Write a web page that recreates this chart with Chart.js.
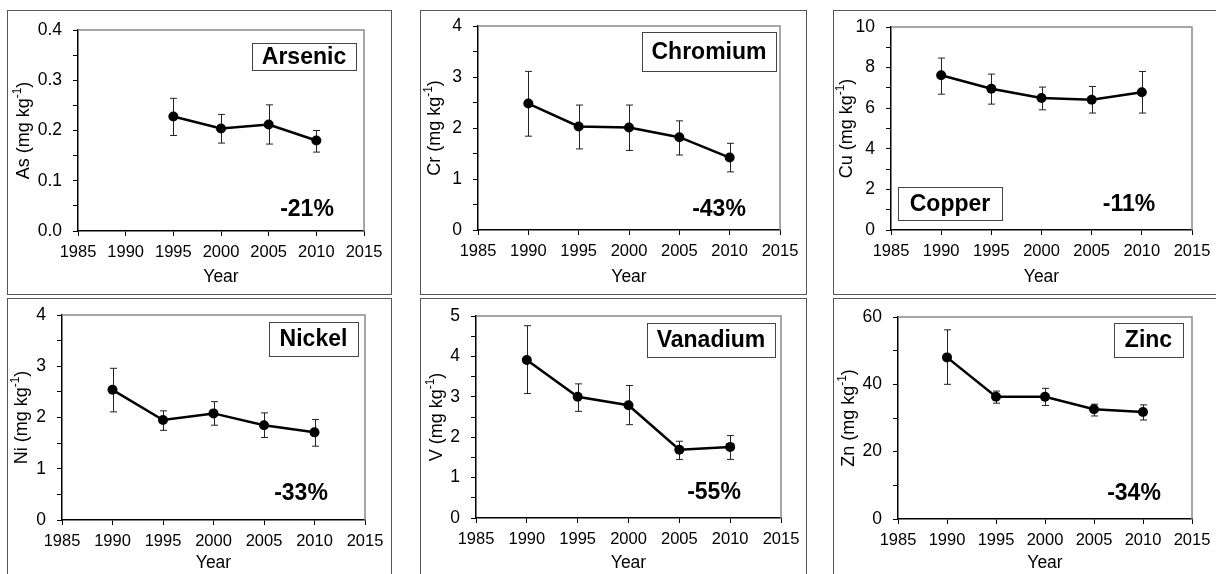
<!DOCTYPE html>
<html>
<head>
<meta charset="utf-8">
<script src="https://cdn.jsdelivr.net/npm/chart.js@4.4.1/dist/chart.umd.min.js"></script>
<style>
  body { margin: 0; width: 1216px; height: 574px; overflow: hidden; background: #fff; position: relative; }
  .panel { position: absolute; }
  .panel .wrap { position: absolute; left: 0; top: 0; width: 100%; height: 100%; }
  .panel .frame { position: absolute; left: 0; top: 0; right: 0; bottom: 0; border: 1px solid #555;
                  box-sizing: border-box; pointer-events: none; }
</style>
</head>
<body>
<script>
const FONT = '"Liberation Sans", Arial, sans-serif';

// sampling years
const years = [1990, 1995, 2000, 2005, 2010];
const asYears = [1995, 2000, 2005, 2010];
const xTicks = ['1985', '1990', '1995', '2000', '2005', '2010', '2015'];

// means and error bar ends (mg kg-1)
const asMean = [0.228, 0.204, 0.212, 0.180];
const asLo   = [0.190, 0.175, 0.173, 0.157];
const asHi   = [0.264, 0.232, 0.251, 0.200];

const crMean = [2.48, 2.03, 2.01, 1.82, 1.42];
const crLo   = [1.84, 1.59, 1.56, 1.47, 1.14];
const crHi   = [3.11, 2.45, 2.45, 2.14, 1.70];

const cuMean = [7.62, 6.96, 6.50, 6.42, 6.79];
const cuLo   = [6.69, 6.20, 5.92, 5.76, 5.76];
const cuHi   = [8.47, 7.68, 7.04, 7.07, 7.81];

const niMean = [2.54, 1.95, 2.08, 1.85, 1.71];
const niLo   = [2.11, 1.75, 1.85, 1.61, 1.44];
const niHi   = [2.96, 2.13, 2.31, 2.09, 1.96];

const vMean = [3.91, 3.00, 2.79, 1.69, 1.76];
const vLo   = [3.08, 2.64, 2.31, 1.45, 1.45];
const vHi   = [4.76, 3.32, 3.28, 1.90, 2.04];

const znMean = [48.0, 36.3, 36.3, 32.6, 31.8];
const znLo   = [40.0, 34.4, 33.7, 30.6, 29.4];
const znHi   = [56.2, 38.0, 38.8, 34.1, 33.9];

// y tick labels
const asTicks = ['0.0', '0.1', '0.2', '0.3', '0.4'];
const crTicks = ['0', '1', '2', '3', '4'];
const cuTicks = ['0', '2', '4', '6', '8', '10'];
const niTicks = ['0', '1', '2', '3', '4'];
const vTicks  = ['0', '1', '2', '3', '4', '5'];
const znTicks = ['0', '20', '40', '60'];

const panels = [
  { left: 7, top: 10, w: 385, h: 285, area: [71, 20, 357, 221], yearTitle: 267,
    yrs: asYears, mean: asMean, lo: asLo, hi: asHi, ticks: asTicks, minor: 0.05,
    sym: 'As', name: 'Arsenic', box: [245, 33, 349, 60], pct: '-21%', pctAt: [300, 200], titleX: 15 },
  { left: 420, top: 10, w: 387, h: 285, area: [58, 16, 360, 220], yearTitle: 267,
    yrs: years, mean: crMean, lo: crLo, hi: crHi, ticks: crTicks, minor: 0.5,
    sym: 'Cr', name: 'Chromium', box: [222, 22, 356, 61], pct: '-43%', pctAt: [299, 200], titleX: 13 },
  { left: 833, top: 10, w: 400, h: 285, area: [58, 17, 359, 220], yearTitle: 267,
    yrs: years, mean: cuMean, lo: cuLo, hi: cuHi, ticks: cuTicks, minor: 1,
    sym: 'Cu', name: 'Copper', box: [65, 177, 169, 210], pct: '-11%', pctAt: [296, 195], titleX: 12 },
  { left: 7, top: 298, w: 385, h: 290, area: [55, 17, 358, 222], yearTitle: 265,
    yrs: years, mean: niMean, lo: niLo, hi: niHi, ticks: niTicks, minor: 0.5,
    sym: 'Ni', name: 'Nickel', box: [262, 24, 351, 58], pct: '-33%', pctAt: [294, 196], titleX: 13 },
  { left: 420, top: 298, w: 387, h: 290, area: [56, 18, 361, 220], yearTitle: 265,
    yrs: years, mean: vMean, lo: vLo, hi: vHi, ticks: vTicks, minor: 0.5,
    sym: 'V', name: 'Vanadium', box: [227, 25, 355, 59], pct: '-55%', pctAt: [294, 195], titleX: 15 },
  { left: 833, top: 298, w: 400, h: 290, area: [65, 19, 359, 221], yearTitle: 265,
    yrs: years, mean: znMean, lo: znLo, hi: znHi, ticks: znTicks, minor: 10,
    sym: 'Zn', name: 'Zinc', box: [281, 25, 350, 59], pct: '-34%', pctAt: [301, 196], titleX: 14 },
];

// error bars, plot frame, y title, name box and percentage
function panelPlugin(p) {
  return {
    id: 'panelDeco',
    beforeDatasetsDraw(chart) {
      const { ctx, chartArea: a, scales: { x, y } } = chart;
      ctx.save();
      ctx.strokeStyle = '#8a8a8a';
      ctx.lineWidth = 1.5;
      ctx.beginPath();
      ctx.moveTo(a.left, a.top); ctx.lineTo(a.right, a.top); ctx.lineTo(a.right, a.bottom);
      ctx.stroke();

      ctx.strokeStyle = '#222';
      ctx.lineWidth = 1;
      p.yrs.forEach((yr, i) => {
        const px = Math.round(x.getPixelForValue(yr)) + 0.5;
        const t = y.getPixelForValue(p.hi[i]);
        const b = y.getPixelForValue(p.lo[i]);
        ctx.beginPath();
        ctx.moveTo(px, t); ctx.lineTo(px, b);
        ctx.moveTo(px - 3.5, t); ctx.lineTo(px + 3.5, t);
        ctx.moveTo(px - 3.5, b); ctx.lineTo(px + 3.5, b);
        ctx.stroke();
      });
      ctx.restore();
    },
    afterDraw(chart) {
      const { ctx, chartArea: a } = chart;
      ctx.save();
      ctx.fillStyle = '#000';

      // y axis title with superscript
      const main = p.sym + ' (mg kg', sup = '-1', close = ')';
      ctx.font = '18px ' + FONT;
      const w1 = ctx.measureText(main).width, w3 = ctx.measureText(close).width;
      ctx.font = '12px ' + FONT;
      const w2 = ctx.measureText(sup).width;
      const total = w1 + w2 + w3;
      ctx.translate(p.titleX, (a.top + a.bottom) / 2);
      ctx.rotate(-Math.PI / 2);
      ctx.textBaseline = 'alphabetic';
      ctx.textAlign = 'left';
      let sx = -total / 2;
      ctx.font = '18px ' + FONT;
      ctx.fillText(main, sx, 6.5);
      sx += w1;
      ctx.font = '12px ' + FONT;
      ctx.fillText(sup, sx, -1);
      sx += w2;
      ctx.font = '18px ' + FONT;
      ctx.fillText(close, sx, 6.5);
      ctx.setTransform(1, 0, 0, 1, 0, 0);

      // element name box
      const [bx0, by0, bx1, by1] = p.box;
      ctx.fillStyle = '#fff';
      ctx.fillRect(bx0, by0, bx1 - bx0, by1 - by0);
      ctx.strokeStyle = '#444';
      ctx.lineWidth = 1;
      ctx.strokeRect(bx0 + 0.5, by0 + 0.5, bx1 - bx0, by1 - by0);
      ctx.fillStyle = '#000';
      ctx.font = 'bold 23px ' + FONT;
      ctx.textAlign = 'center';
      ctx.textBaseline = 'middle';
      ctx.fillText(p.name, (bx0 + bx1) / 2, (by0 + by1) / 2 + 1);

      // percentage change
      ctx.font = 'bold 23px ' + FONT;
      ctx.fillText(p.pct, p.pctAt[0], p.pctAt[1]);
      ctx.restore();
    }
  };
}

panels.forEach((p, k) => {
  const div = document.createElement('div');
  div.className = 'panel';
  div.style.cssText = `left:${p.left}px;top:${p.top}px;width:${p.w}px;height:${p.h}px`;
  div.innerHTML = `<div class="wrap"><canvas id="c${k}"></canvas></div><div class="frame"></div>`;
  document.body.appendChild(div);

  const [L, T, R, B] = p.area;
  const padB = p.h - p.yearTitle - 4 - 10.2;
  const yMax = parseFloat(p.ticks[p.ticks.length - 1]);

  new Chart(document.getElementById('c' + k), {
    type: 'line',
    data: {
      datasets: [{
        data: p.yrs.map((yr, i) => ({ x: yr, y: p.mean[i] })),
        borderColor: '#000',
        borderWidth: 2.5,
        pointRadius: 5,
        pointBackgroundColor: '#000',
        pointBorderWidth: 0,
        tension: 0
      }]
    },
    options: {
      responsive: true,
      maintainAspectRatio: false,
      animation: false,
      events: [],
      layout: { padding: { left: 0, top: T, right: p.w - R, bottom: padB } },
      plugins: { legend: { display: false }, tooltip: { enabled: false } },
      scales: {
        x: {
          type: 'linear',
          min: 1985, max: 2015,
          grid: { drawOnChartArea: false, tickLength: 5, tickColor: '#000', tickWidth: 1 },
          border: { color: '#000', width: 1.5 },
          ticks: {
            stepSize: 5, autoSkip: false, maxRotation: 0, padding: 7,
            color: '#000', font: { family: FONT, size: 16.5 },
            callback: v => xTicks.find(t => +t === v) ?? ''
          },
          title: { display: true, text: 'Year', color: '#000', font: { family: FONT, size: 17.5 },
                   padding: { top: 0, bottom: 4 } },
          afterFit: s => { s.height = p.h - padB - B; s.paddingLeft = 0; s.paddingRight = 0; }
        },
        y: {
          min: 0, max: yMax,
          grid: { drawOnChartArea: false, tickLength: 5, tickColor: '#000', tickWidth: 1 },
          border: { color: '#000', width: 1.5 },
          ticks: {
            stepSize: p.minor, autoSkip: false, padding: 11,
            color: '#000', font: { family: FONT, size: 17.5 },
            callback: v => p.ticks.find(t => Math.abs(parseFloat(t) - v) < 1e-9) ?? ''
          },
          afterFit: s => { s.width = L; s.paddingTop = 0; s.paddingBottom = 0; }
        }
      }
    },
    plugins: [panelPlugin(p)]
  });
});
</script>
</body>
</html>
